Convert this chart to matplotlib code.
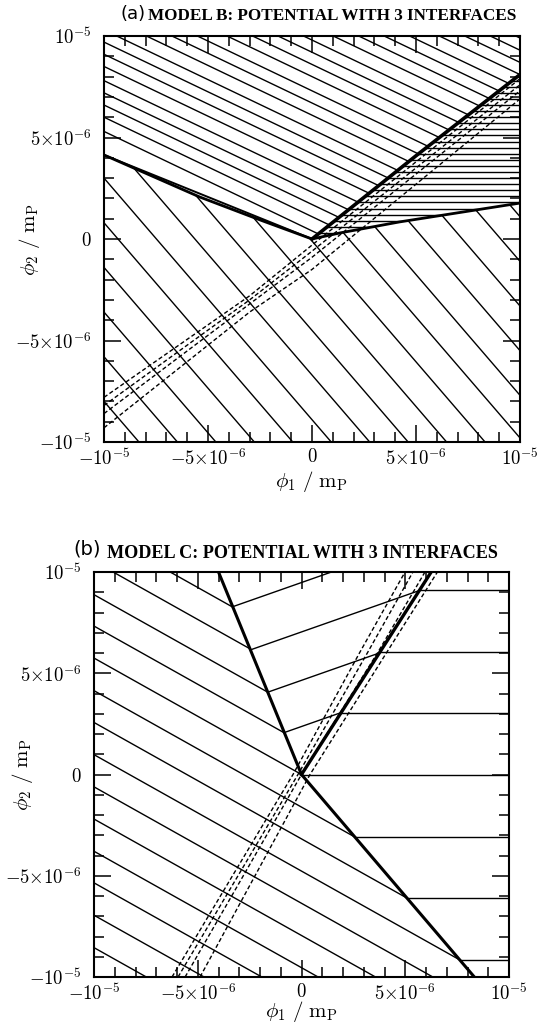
import numpy as np
import matplotlib
matplotlib.use('Agg')
import matplotlib.pyplot as plt
from matplotlib.patches import Polygon
from matplotlib.ticker import MultipleLocator

plt.rcParams['mathtext.fontset'] = 'cm'
plt.rcParams['font.family'] = ['DejaVu Serif']

# all field values in units of 1e-5 m_P
tick_vals = [-1.0, -0.5, 0.0, 0.5, 1.0]
x_tick_labels = [r'$-10^{-5}$', r'$-5{\times}10^{-6}$', r'$0$', r'$5{\times}10^{-6}$', r'$10^{-5}$']
y_tick_labels = [r'$-10^{-5}$', r'$-5{\times}10^{-6}$', r'$0$', r'$5{\times}10^{-6}$', r'$10^{-5}$']

# ---------------- Panel (a): Model B ----------------
a_left_if_x = [-1.0, -0.54, -0.25, 0.0]
a_left_if_y = [0.414, 0.207, 0.094, 0.0]
a_left_if2_x = [-1.0, 0.0]
a_left_if2_y = [0.414, 0.0]
a_diag_x = [0.0, 0.5, 1.0]
a_diag_y = [0.0, 0.41, 0.81]
a_low_x = [0.0, 0.135, 0.42, 1.0]
a_low_y = [0.0, 0.03, 0.084, 0.177]

a_lower_slope = -1.19
a_lower_c = [-1.99, -1.77, -1.55, -1.33, -1.11, -0.89, -0.67, -0.45, -0.23,
             -0.01, 0.21, 0.42, 0.64, 0.86, 1.08, 1.30]
a_upper_slope = -0.49
a_upper_c = [0.04, 0.11, 0.17, 0.23, 0.29, 0.36, 0.42, 0.48, 0.54, 0.61, 0.67,
             0.73, 0.80, 0.86, 0.92, 0.98, 1.05, 1.11, 1.17, 1.23, 1.30, 1.36,
             1.42, 1.48]
a_wedge_levels = [0.03, 0.06, 0.09, 0.12, 0.15, 0.18, 0.21, 0.24, 0.27, 0.30,
                  0.33, 0.36, 0.39, 0.42, 0.45, 0.48, 0.51, 0.54, 0.57, 0.60,
                  0.63, 0.66, 0.69, 0.72, 0.75, 0.78]
a_traj_x = [-1.0, -0.3, 0.0, 1.0]
a_traj_y = [[-0.78, -0.28, -0.03, 0.79],
            [-0.82, -0.30, -0.06, 0.76],
            [-0.86, -0.32, -0.09, 0.73],
            [-0.93, -0.36, -0.15, 0.69]]

# ---------------- Panel (b): Model C ----------------
b_ul_x = [-0.4, 0.0]
b_ul_y = [1.0, 0.0]
b_lr_x = [0.0, 0.833]
b_lr_y = [0.0, -1.0]
b_ur_x = [0.0, 0.625]
b_ur_y = [0.0, 1.0]

b_left_slope = -0.575
b_left_c = [0.636, 0.478, 0.313, 0.158, 0.0, -0.161, -0.318, -0.477, -0.636,
            -0.795, -0.954, -1.11, -1.27, -1.43]
b_wedge_slope = 0.36
b_wedge_c = [0.948, 0.704, 0.465, 0.237]
b_right_levels = [0.91, 0.605, 0.304, 0.0, -0.31, -0.61, -0.915]
b_traj_y = [-1.0, 0.0, 0.605, 1.0]
b_traj_x = [[-0.624, -0.041, 0.282, 0.499],
            [-0.595, -0.017, 0.320, 0.537],
            [-0.561, 0.000, 0.369, 0.595],
            [-0.489, 0.041, 0.412, 0.655]]

W, H = 542, 1024
fig = plt.figure(figsize=(W / 100, H / 100), dpi=100)


def px_axes(l, r, t, b):
    return fig.add_axes([l / W, 1 - b / H, (r - l) / W, (b - t) / H])


def hatch(ax, poly, slope, intercepts, lw=1.0):
    patch = Polygon(poly, closed=True, transform=ax.transData,
                    fill=False, edgecolor='none')
    ax.add_patch(patch)
    xs = np.array([-1.6, 1.6])
    for c in intercepts:
        ln, = ax.plot(xs, slope * xs + c, color='k', lw=lw)
        ln.set_clip_path(patch)


def style(ax, l, r, t, b, ylab_right_px, xlab_top_px):
    ax.set_xlim(-1, 1)
    ax.set_ylim(-1, 1)
    ax.set_xticks(tick_vals)
    ax.set_yticks(tick_vals)
    ax.set_xticklabels(x_tick_labels)
    ax.set_yticklabels(y_tick_labels)
    ax.xaxis.set_minor_locator(MultipleLocator(0.1))
    ax.yaxis.set_minor_locator(MultipleLocator(0.1))
    ax.tick_params(which='both', direction='in', top=True, right=True,
                   width=1.1, labelsize=13.5, colors='k')
    ax.tick_params(which='major', length=12)
    ax.tick_params(which='minor', length=7)
    ax.tick_params(axis='x', which='major', pad=4)
    ax.tick_params(axis='y', which='major', pad=9)
    for s in ax.spines.values():
        s.set_linewidth(1.5)
    ax.set_xlabel(r'$\phi_1\ /\ \mathrm{m}_{\mathrm{P}}$', fontsize=15, va='top')
    ax.set_ylabel(r'$\phi_2\ /\ \mathrm{m}_{\mathrm{P}}$', fontsize=15)
    ax.xaxis.set_label_coords(0.5, -(xlab_top_px - b) / (b - t))
    ax.yaxis.set_label_coords(-(l - ylab_right_px) / (r - l), 0.5)


# ---- panel a ----
A = (104, 520, 36, 442)
ax = px_axes(*A)
reg1 = [(-1, -1), (1, -1)] + list(zip(a_low_x[::-1], a_low_y[::-1])) + \
       list(zip(a_left_if_x[::-1], a_left_if_y[::-1]))[1:]
reg2 = list(zip(a_left_if_x, a_left_if_y)) + list(zip(a_diag_x, a_diag_y))[1:] + [(1, 1), (-1, 1)]
reg3 = list(zip(a_diag_x, a_diag_y)) + list(zip(a_low_x[::-1], a_low_y[::-1]))
hatch(ax, reg1, a_lower_slope, a_lower_c)
hatch(ax, reg2, a_upper_slope, a_upper_c)
hatch(ax, reg3, 0.0, a_wedge_levels)
ax.plot(a_left_if_x, a_left_if_y, color='k', lw=2.0)
ax.plot(a_left_if2_x, a_left_if2_y, color='k', lw=1.4)
ax.plot(a_diag_x, a_diag_y, color='k', lw=2.6)
ax.plot(a_low_x, a_low_y, color='k', lw=2.0)
for ty in a_traj_y:
    ax.plot(a_traj_x, ty, color='k', lw=1.0, ls=(0, (3, 1.8)))
style(ax, *A, ylab_right_px=42, xlab_top_px=469)

# ---- panel b ----
B = (94, 509, 572, 977)
bx = px_axes(*B)
regL = [(-1, -1), (b_lr_x[1], b_lr_y[1]), (0, 0), (b_ul_x[0], b_ul_y[0]), (-1, 1)]
regW = [(b_ul_x[0], b_ul_y[0]), (0, 0), (b_ur_x[1], b_ur_y[1])]
regR = [(b_ur_x[1], b_ur_y[1]), (0, 0), (b_lr_x[1], b_lr_y[1]), (1, -1), (1, 1)]
hatch(bx, regL, b_left_slope, b_left_c)
hatch(bx, regW, b_wedge_slope, b_wedge_c)
hatch(bx, regR, 0.0, b_right_levels)
bx.plot(b_ul_x, b_ul_y, color='k', lw=2.2)
bx.plot(b_lr_x, b_lr_y, color='k', lw=2.2)
bx.plot(b_ur_x, b_ur_y, color='k', lw=2.4)
for tx in b_traj_x:
    bx.plot(tx, b_traj_y, color='k', lw=1.0, ls=(0, (3, 1.8)))
style(bx, *B, ylab_right_px=35, xlab_top_px=999)

# titles
fig.text(120 / W, 1 - 14 / H, '(a)', family='DejaVu Sans', fontsize=13,
         va='center', ha='left')
fig.text(148 / W, 1 - 16 / H, 'MODEL B: POTENTIAL WITH 3 INTERFACES',
         family='Liberation Serif', weight='bold', fontsize=12.3, va='center', ha='left')
fig.text(73 / W, 1 - 549 / H, '(b)', family='DejaVu Sans', fontsize=14,
         va='center', ha='left')
fig.text(107 / W, 1 - 553 / H, 'MODEL C: POTENTIAL WITH 3 INTERFACES',
         family='Liberation Serif', weight='bold', fontsize=13.1, va='center', ha='left')

fig.savefig('out.png', dpi=100)
